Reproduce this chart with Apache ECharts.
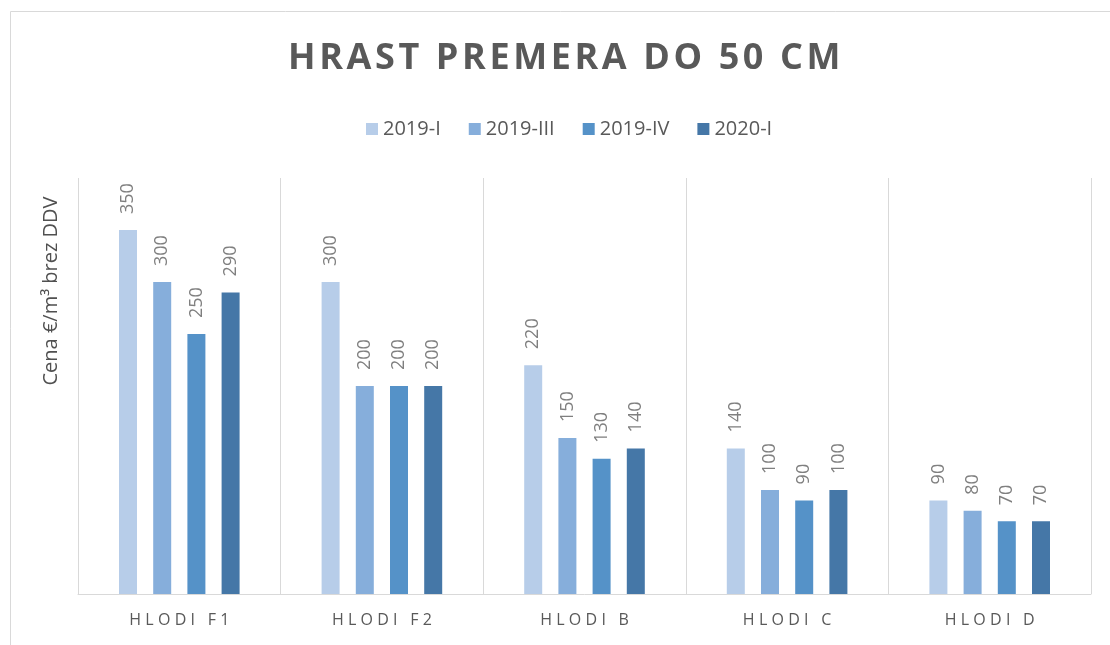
<!DOCTYPE html>
<html>
<head>
<meta charset="utf-8">
<script src="https://cdn.jsdelivr.net/npm/echarts@6/dist/echarts.min.js"></script>
<style>
  html, body { margin: 0; padding: 0; background: #fff; }
  #chart { width: 1110px; height: 645px; }
</style>
</head>
<body>
<div id="chart"></div>
<script>
// podatki
const categories = ['HLODI F1', 'HLODI F2', 'HLODI B', 'HLODI C', 'HLODI D']
const seriesNames = ['2019-I', '2019-III', '2019-IV', '2020-I']
const v2019I = [350, 300, 220, 140, 90]
const v2019III = [300, 200, 150, 100, 80]
const v2019IV = [250, 200, 130, 90, 70]
const v2020I = [290, 200, 140, 100, 70]

const colors = ['#B7CDE9', '#86AEDB', '#5592C8', '#4577A7']
const values = [v2019I, v2019III, v2019IV, v2020I]

// razmik med crkami (Excel "spaced" text)
const spaced = (s, sep) => s.split('').join(sep)

const myChart = echarts.init(document.getElementById('chart'))

const option = {
  animation: false,
  color: colors,
  title: {
    text: spaced('HRAST PREMERA DO 50 CM', '\u200A'),
    left: 283,
    top: 36,
    textStyle: {
      fontFamily: 'Open Sans',
      fontWeight: 'bold',
      fontSize: 36,
      color: '#595959'
    }
  },
  legend: {
    data: seriesNames,
    top: 114,
    left: 361,
    itemWidth: 12,
    itemHeight: 12,
    itemGap: 28,
    icon: 'rect',
    textStyle: {
      fontFamily: 'Open Sans',
      fontSize: 20,
      color: '#595959'
    }
  },
  grid: {
    left: 78,
    right: 19,
    top: 178,
    bottom: 51
  },
  xAxis: {
    type: 'category',
    data: categories,
    axisTick: { show: false },
    axisLine: { lineStyle: { color: '#d9d9d9', width: 1 } },
    splitLine: { show: true, interval: 0, lineStyle: { color: '#d9d9d9', width: 1 } },
    axisLabel: {
      margin: 18,
      fontFamily: 'Open Sans',
      fontSize: 16,
      color: '#595959',
      formatter: v => spaced(v, '\u2009\u200A')
    }
  },
  yAxis: {
    type: 'value',
    min: 0,
    max: 400,
    axisLine: { show: false },
    axisTick: { show: false },
    axisLabel: { show: false },
    splitLine: { show: false }
  },
  graphic: [
    {
      type: 'rect',
      shape: { x: 10.5, y: 11.5, width: 1200, height: 700 },
      style: { fill: 'none', stroke: '#d9d9d9', lineWidth: 1 },
      silent: true
    },
    {
      type: 'text',
      x: 51,
      y: 291,
      rotation: Math.PI / 2,
      style: {
        text: 'Cena €/m³ brez DDV',
        fontFamily: 'Open Sans',
        fontSize: 20,
        fill: '#505050',
        textAlign: 'center',
        textVerticalAlign: 'middle'
      }
    }
  ],
  series: seriesNames.map((name, i) => ({
    name: name,
    type: 'bar',
    data: values[i],
    barWidth: 18,
    barGap: '90%',
    label: {
      show: true,
      position: 'top',
      distance: 16,
      rotate: 90,
      align: 'left',
      verticalAlign: 'middle',
      fontFamily: 'Open Sans',
      fontSize: 18,
      color: '#7f7f7f'
    }
  }))
}

myChart.setOption(option)
</script>
</body>
</html>
